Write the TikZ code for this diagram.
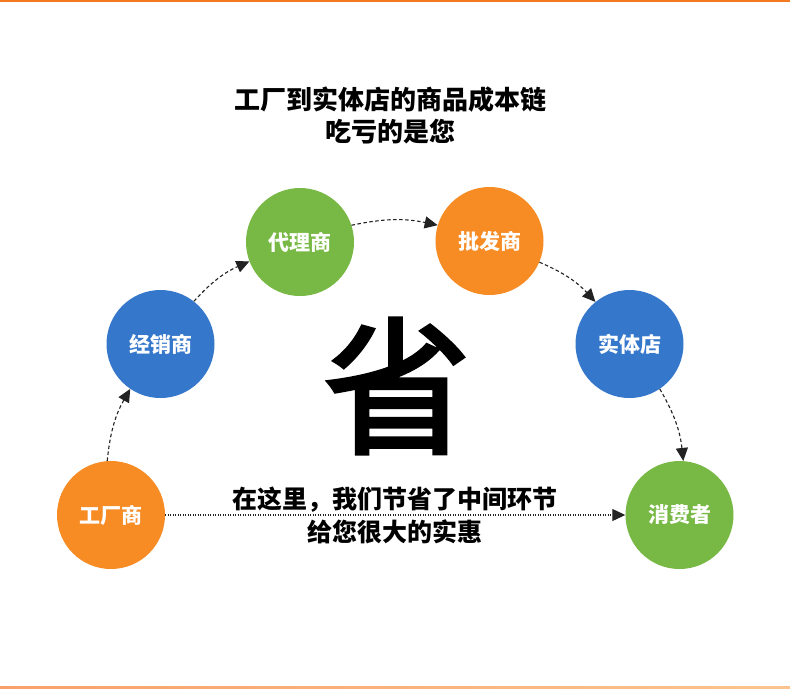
\documentclass[tikz,border=0pt]{standalone}
\usepackage{fontspec}
\newfontfamily\cjk{Noto Sans CJK SC}
\newfontfamily\cjkmid[FakeBold=2.5]{Noto Sans CJK SC}
\usetikzlibrary{arrows.meta}
\definecolor{corange}{HTML}{F78B24}
\definecolor{cblue}{HTML}{3477CB}
\definecolor{cgreen}{HTML}{77B944}
\definecolor{topline}{HTML}{F47A22}
\definecolor{botA}{HTML}{F9A06A}
\definecolor{botB}{HTML}{FBC48E}
\definecolor{arrowc}{HTML}{222222}
\tikzset{
  bubble/.style={circle, minimum size=108pt, inner sep=0pt, text=white,
    font=\cjk\bfseries\fontsize{21}{24}\selectfont},
  flow/.style={draw=arrowc, line width=1.1pt, dash pattern=on 3.5pt off 2.5pt,
    -{Triangle[length=13pt,width=12pt]}, bend left=12},
  direct/.style={draw=arrowc, line width=1.1pt, dash pattern=on 1.2pt off 1.3pt,
    -{Triangle[length=13pt,width=12pt]}},
}
\begin{document}
\begin{tikzpicture}[x=1pt,y=-1pt]
\useasboundingbox (0,0) rectangle (790,689);
\fill[white] (0,0) rectangle (790,689);
\fill[topline] (0,0) rectangle (790,2.2);
\shade[left color=botA, right color=botB] (0,686.5) rectangle (790,688.5);

\node[font=\cjk\bfseries\fontsize{26}{32}\selectfont, align=center] (title) at (390,115)
  {工厂到实体店的商品成本链\\吃亏的是您};

\node[font=\cjkmid\fontsize{148}{150}\selectfont] (sheng) at (397,386) {省};

\node[bubble, fill=corange] (gc) at (111,515) {工厂商};
\node[bubble, fill=cblue]   (jx) at (160.5,344) {经销商};
\node[bubble, fill=cgreen]  (dl) at (300,242) {代理商};
\node[bubble, fill=corange] (pf) at (489.5,241) {批发商};
\node[bubble, fill=cblue]   (st) at (629.5,344) {实体店};
\node[bubble, fill=cgreen]  (xf) at (679.5,515) {消费者};

\draw[flow] (gc.94) to (jx.236);
\draw[flow] (jx.52) to (dl.201);
\draw[flow] (dl.18) to (pf.163);
\draw[flow] (pf.337) to (st.129);
\draw[flow] (st.304) to (xf.86);
\draw[direct] (gc.east) -- (xf.west);

\node[font=\cjk\bfseries\fontsize{25}{33}\selectfont, align=center] (msg) at (395,515)
  {在这里，我们节省了中间环节\\给您很大的实惠};
\end{tikzpicture}
\end{document}
